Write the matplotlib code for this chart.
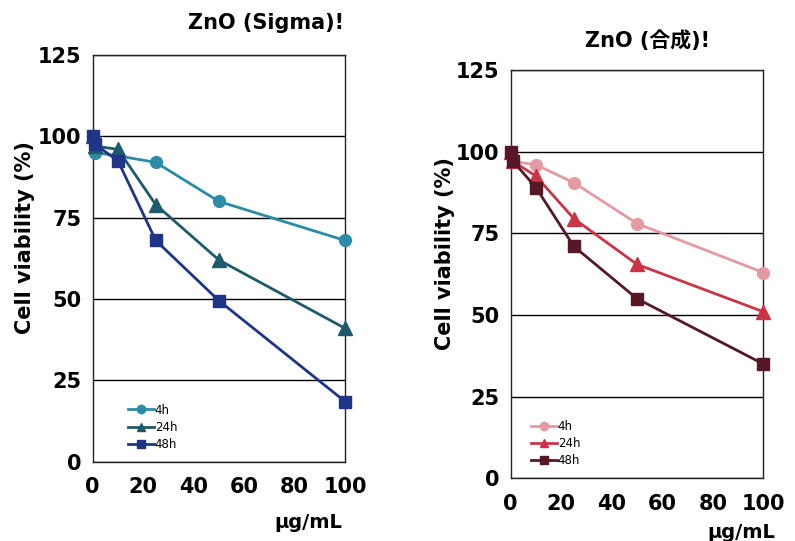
import matplotlib
matplotlib.use("Agg")
import matplotlib.pyplot as plt

plt.rcParams['font.family'] = ['DejaVu Sans', 'Noto Sans CJK JP']

# concentrations (μg/mL)
conc = [0, 1, 10, 25, 50, 100]
times = ["4h", "24h", "48h"]

# cell viability (%) — ZnO (Sigma)
sigma_4h = [100, 95, 94, 92, 80, 68]
sigma_24h = [100, 97, 96, 79, 62, 41]
sigma_48h = [100, 97.5, 92.5, 68, 49.5, 18.5]

# cell viability (%) — ZnO (合成)
synth_4h = [100, 97, 96, 90.5, 78, 63]
synth_24h = [100, 97, 92.5, 79.5, 65.5, 51]
synth_48h = [100, 97, 89, 71, 55, 35]

y_ticks = [0, 25, 50, 75, 100, 125]
x_ticks = [0, 20, 40, 60, 80, 100]

titles = ["ZnO (Sigma)!", "ZnO (合成)!"]
y_label = "Cell viability (%)"
x_label = "μg/mL"

fig = plt.figure(figsize=(7.95, 5.41), dpi=100)

panels = [
    dict(pos=[0.1166, 0.1466, 0.3174, 0.7517],
         series=[sigma_4h, sigma_24h, sigma_48h],
         colors=["#2a8ca6", "#1c5a6c", "#1f3488"],
         title_xy=(0.335, 0.958), ylab_x=0.032, xlab_xy=(0.43, 0.035),
         leg_anchor=(0.12, 0.015)),
    dict(pos=[0.6424, 0.1159, 0.3177, 0.7547],
         series=[synth_4h, synth_24h, synth_48h],
         colors=["#e39aa3", "#cc3446", "#561826"],
         title_xy=(0.815, 0.925), ylab_x=0.56, xlab_xy=(0.975, 0.015),
         leg_anchor=(0.06, 0.015)),
]

markers = ["o", "^", "s"]
msizes = [8.5, 9.5, 9]

for p, title in zip(panels, titles):
    ax = fig.add_axes(p["pos"])
    for vals, c, m, ms, lab in zip(p["series"], p["colors"], markers, msizes, times):
        ax.plot(conc, vals, color=c, marker=m, markersize=ms, linewidth=2.0,
                markeredgecolor=c, label=lab, clip_on=False, zorder=3)
    ax.set_xlim(0, 100)
    ax.set_ylim(0, 125)
    ax.set_yticks(y_ticks)
    ax.set_xticks(x_ticks)
    ax.tick_params(length=0, labelsize=15, pad=8)
    ax.tick_params(axis="x", pad=11)
    for t in ax.get_xticklabels() + ax.get_yticklabels():
        t.set_fontweight("bold")
    ax.grid(axis="y", color="black", linewidth=1.0)
    ax.set_axisbelow(True)
    for s in ax.spines.values():
        s.set_color("#222222")
        s.set_linewidth(1.0)
    leg = ax.legend(loc="lower left", bbox_to_anchor=p["leg_anchor"], frameon=False,
                    fontsize=8.5, handlelength=2.2, handletextpad=0.1,
                    labelspacing=0.35, borderaxespad=0)
    for h in leg.legend_handles:
        h.set_markersize(6)
    fig.text(p["title_xy"][0], p["title_xy"][1], title, ha="center", va="center",
             fontsize=15, fontweight="bold")
    fig.text(p["ylab_x"], p["pos"][1] + p["pos"][3] * 0.55, y_label, rotation=90,
             ha="center", va="center", fontsize=15, fontweight="bold")
    fig.text(p["xlab_xy"][0], p["xlab_xy"][1], x_label, ha="right", va="center",
             fontsize=14, fontweight="bold")

fig.savefig("out.png", dpi=100)
